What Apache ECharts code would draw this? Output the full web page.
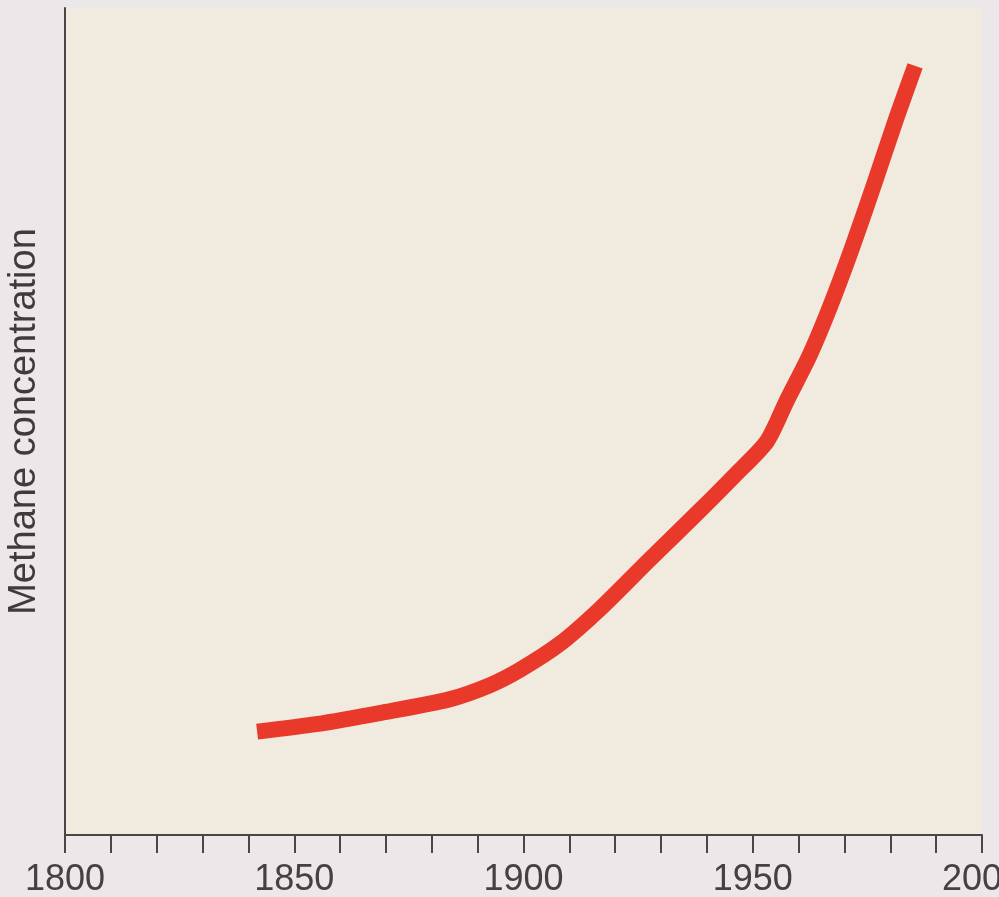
<!DOCTYPE html>
<html>
<head>
<meta charset="utf-8">
<script src="https://cdn.jsdelivr.net/npm/echarts@6/dist/echarts.min.js"></script>
<style>
html,body{margin:0;padding:0;background:#ece8e9;}
#chart{width:999px;height:897px;}
</style>
</head>
<body>
<div id="chart"></div>
<script>
// Data (y in arbitrary relative units, 0-100)
const years = [1841.9, 1854.8, 1869.2, 1883.8, 1892.6, 1899.3, 1907.9, 1916.6, 1927.5, 1938.4, 1946.1, 1953.1, 1957.4, 1962.4, 1966.8, 1971.6, 1976.6, 1981.4, 1985.4];
const methane = [12.5, 13.4, 14.8, 16.4, 18.1, 20.0, 23.1, 27.3, 33.3, 39.2, 43.5, 47.6, 52.5, 58.0, 63.8, 70.9, 78.9, 86.8, 93.0];
const tickLabels = [1800, 1850, 1900, 1950, 2000];
const yAxisTitle = 'Methane concentration';

const chart = echarts.init(document.getElementById('chart'), null, {renderer: 'canvas'});
chart.setOption({
  backgroundColor: '#ece8e9',
  animation: false,
  grid: {
    show: true,
    left: 65, right: 17, top: 8, bottom: 62,
    containLabel: false,
    outerBoundsMode: 'none',
    backgroundColor: '#f1ebdf',
    borderWidth: 0
  },
  xAxis: {
    type: 'value',
    min: 1800, max: 2000, interval: 10,
    axisLine: {show: true, lineStyle: {color: '#4b4547', width: 2}},
    axisTick: {show: true, length: 18, lineStyle: {color: '#4b4547', width: 2}},
    splitLine: {show: false},
    axisLabel: {
      margin: 27,
      fontFamily: 'Liberation Sans, Arial, sans-serif',
      fontSize: 36,
      color: '#454043',
      showMaxLabel: true,
      hideOverlap: false,
      formatter: function (v) { return tickLabels.indexOf(v) >= 0 ? String(v) : ''; }
    }
  },
  yAxis: {
    type: 'value',
    min: 0, max: 100,
    axisLine: {show: true, lineStyle: {color: '#4b4547', width: 2}},
    axisTick: {show: false},
    axisLabel: {show: false},
    splitLine: {show: false},
    name: yAxisTitle,
    nameLocation: 'middle',
    nameGap: 21,
    nameTextStyle: {
      fontFamily: 'Liberation Sans, Arial, sans-serif',
      fontSize: 38,
      color: '#3f3a3d'
    }
  },
  series: [{
    type: 'line',
    data: years.map((y, i) => [y, methane[i]]),
    smooth: 0.25,
    showSymbol: false,
    lineStyle: {color: '#e8392b', width: 16, cap: 'butt', join: 'round'}
  }]
});
</script>
</body>
</html>
